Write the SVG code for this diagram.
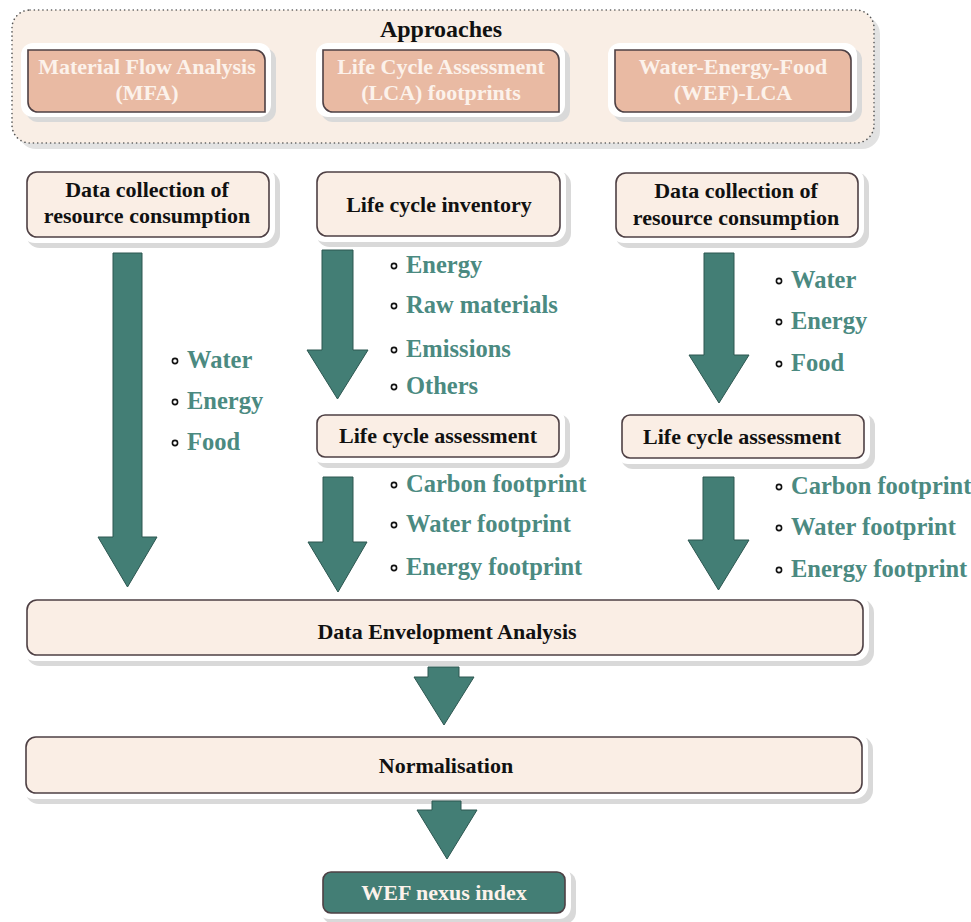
<svg xmlns="http://www.w3.org/2000/svg" width="971" height="922" viewBox="0 0 971 922">
  <style>
    .shadow { fill: #d9d9d9; }
    .halo { fill: #ffffff; }
    .box { fill: #faeee5; stroke: #4e4044; stroke-width: 1.6; }
    .app { fill: #e9baa3; stroke: #4e4044; stroke-width: 1.6; }
    .dark { fill: #437e75; stroke: #4e4044; stroke-width: 1.6; }
    .lbl { font-family: "Liberation Serif", "Times New Roman", serif; font-weight: bold; font-size: 22px; fill: #111111; text-anchor: middle; }
    .applbl { font-family: "Liberation Serif", "Times New Roman", serif; font-weight: bold; font-size: 22px; fill: #fcf2eb; text-anchor: middle; }
    .title { font-family: "Liberation Serif", "Times New Roman", serif; font-weight: bold; font-size: 24px; fill: #111111; text-anchor: middle; }
    .item { font-family: "Liberation Serif", "Times New Roman", serif; font-weight: bold; font-size: 24.5px; fill: #4b8a81; }
    .dot { fill: #ffffff; stroke: #111111; stroke-width: 1.6; }
    .arrow { fill: #437e75; stroke: #2c5650; stroke-width: 1; }
  </style>

  <!-- approaches panel -->
  <g id="approaches">
    <rect x="18" y="16" width="862" height="133" rx="18" fill="#e2e2e2"/>
    <rect x="12" y="10" width="862" height="133" rx="18" fill="#f9eee5" stroke="#555555" stroke-width="1.6" stroke-dasharray="0.1 4.2" stroke-linecap="round"/>
    <text class="title" x="441" y="37">Approaches</text>
  </g>

  <g id="mfa">
    <rect class="shadow" x="26" y="48" width="250" height="74" rx="12"/>
    <rect class="halo" x="21" y="43" width="250" height="74" rx="12"/>
    <path class="app" d="M28,50 H255 A10,10 0 0 1 265,60 V112 H38 A10,10 0 0 1 28,102 Z"/>
    <text class="applbl" x="147" y="74">Material Flow Analysis</text>
    <text class="applbl" x="147" y="100">(MFA)</text>
  </g>

  <g id="lca">
    <rect class="shadow" x="321" y="48" width="249" height="74" rx="12"/>
    <rect class="halo" x="316" y="43" width="249" height="74" rx="12"/>
    <path class="app" d="M323,50 H549 A10,10 0 0 1 559,60 V112 H333 A10,10 0 0 1 323,102 Z"/>
    <text class="applbl" x="441" y="74">Life Cycle Assessment</text>
    <text class="applbl" x="441" y="100">(LCA) footprints</text>
  </g>

  <g id="wef-lca">
    <rect class="shadow" x="613" y="48" width="249" height="74" rx="12"/>
    <rect class="halo" x="608" y="43" width="249" height="74" rx="12"/>
    <path class="app" d="M615,50 H841 A10,10 0 0 1 851,60 V112 H625 A10,10 0 0 1 615,102 Z"/>
    <text class="applbl" x="733" y="74">Water-Energy-Food</text>
    <text class="applbl" x="733" y="100">(WEF)-LCA</text>
  </g>

  <!-- second row -->
  <g id="collect-left">
    <rect class="shadow" x="26" y="171" width="254" height="77" rx="14"/>
    <rect class="halo" x="21" y="166" width="254" height="77" rx="14"/>
    <rect class="box" x="27" y="172" width="242" height="65" rx="10"/>
    <text class="lbl" x="147" y="197">Data collection of</text>
    <text class="lbl" x="147" y="223">resource consumption</text>
  </g>

  <g id="inventory">
    <rect class="shadow" x="316" y="171" width="255" height="76" rx="14"/>
    <rect class="halo" x="311" y="166" width="255" height="76" rx="14"/>
    <rect class="box" x="317" y="172" width="243" height="64" rx="10"/>
    <text class="lbl" x="439" y="212">Life cycle inventory</text>
  </g>

  <g id="collect-right">
    <rect class="shadow" x="615" y="172" width="254" height="76" rx="14"/>
    <rect class="halo" x="610" y="167" width="254" height="76" rx="14"/>
    <rect class="box" x="616" y="173" width="242" height="64" rx="10"/>
    <text class="lbl" x="736" y="198">Data collection of</text>
    <text class="lbl" x="736" y="225">resource consumption</text>
  </g>

  <!-- assessment boxes -->
  <g id="assess-mid">
    <rect class="shadow" x="316" y="414" width="254" height="54" rx="12"/>
    <rect class="halo" x="311" y="409" width="254" height="54" rx="12"/>
    <rect class="box" x="317" y="415" width="242" height="42" rx="8"/>
    <text class="lbl" x="438" y="443">Life cycle assessment</text>
  </g>

  <g id="assess-right">
    <rect class="shadow" x="621" y="414" width="254" height="55" rx="12"/>
    <rect class="halo" x="616" y="409" width="254" height="55" rx="12"/>
    <rect class="box" x="622" y="415" width="242" height="43" rx="8"/>
    <text class="lbl" x="742" y="444">Life cycle assessment</text>
  </g>

  <g id="dea">
    <rect class="shadow" x="26" y="599" width="848" height="67" rx="14"/>
    <rect class="halo" x="21" y="594" width="848" height="67" rx="14"/>
    <rect class="box" x="27" y="600" width="836" height="55" rx="10"/>
    <text class="lbl" x="447" y="639">Data Envelopment Analysis</text>
  </g>

  <g id="normalisation">
    <rect class="shadow" x="25" y="736" width="848" height="68" rx="14"/>
    <rect class="halo" x="20" y="731" width="848" height="68" rx="14"/>
    <rect class="box" x="26" y="737" width="836" height="56" rx="10"/>
    <text class="lbl" x="446" y="773">Normalisation</text>
  </g>

  <g id="wef-index">
    <rect class="shadow" x="322" y="871" width="254" height="53" rx="12"/>
    <rect class="halo" x="317" y="866" width="254" height="53" rx="12"/>
    <rect class="dark" x="323" y="872" width="242" height="41" rx="8"/>
    <text class="applbl" x="444" y="900">WEF nexus index</text>
  </g>

  <!-- item lists -->
  <g id="items-left">
    <circle class="dot" cx="175" cy="361" r="2.6"/><text class="item" x="187" y="368">Water</text>
    <circle class="dot" cx="175" cy="402" r="2.6"/><text class="item" x="187" y="409">Energy</text>
    <circle class="dot" cx="175" cy="443" r="2.6"/><text class="item" x="187" y="450">Food</text>
  </g>

  <g id="items-inventory">
    <circle class="dot" cx="394" cy="266" r="2.6"/><text class="item" x="406" y="273">Energy</text>
    <circle class="dot" cx="394" cy="306" r="2.6"/><text class="item" x="406" y="313">Raw materials</text>
    <circle class="dot" cx="394" cy="350" r="2.6"/><text class="item" x="406" y="357">Emissions</text>
    <circle class="dot" cx="394" cy="387" r="2.6"/><text class="item" x="406" y="394">Others</text>
  </g>

  <g id="items-right">
    <circle class="dot" cx="779" cy="281" r="2.6"/><text class="item" x="791" y="288">Water</text>
    <circle class="dot" cx="779" cy="322" r="2.6"/><text class="item" x="791" y="329">Energy</text>
    <circle class="dot" cx="779" cy="364" r="2.6"/><text class="item" x="791" y="371">Food</text>
  </g>

  <g id="footprints-mid">
    <circle class="dot" cx="394" cy="485" r="2.6"/><text class="item" x="406" y="492">Carbon footprint</text>
    <circle class="dot" cx="394" cy="525" r="2.6"/><text class="item" x="406" y="532">Water footprint</text>
    <circle class="dot" cx="394" cy="568" r="2.6"/><text class="item" x="406" y="575">Energy footprint</text>
  </g>

  <g id="footprints-right">
    <circle class="dot" cx="779" cy="487" r="2.6"/><text class="item" x="791" y="494">Carbon footprint</text>
    <circle class="dot" cx="779" cy="528" r="2.6"/><text class="item" x="791" y="535">Water footprint</text>
    <circle class="dot" cx="779" cy="570" r="2.6"/><text class="item" x="791" y="577">Energy footprint</text>
  </g>

  <!-- block arrows -->
  <g id="connectors">
    <polygon class="arrow" points="113,253 142,253 142,537 157,537 127.5,587 98,537 113,537"/>
    <polygon class="arrow" points="322,250 353,250 353,350 368,350 337.5,399 307,350 322,350"/>
    <polygon class="arrow" points="704,253 734,253 734,355 749,355 719,403 689,355 704,355"/>
    <polygon class="arrow" points="323,477 353,477 353,542 367,542 338,592 308,542 323,542"/>
    <polygon class="arrow" points="703,477 734,477 734,540 749,540 718.5,590 688,540 703,540"/>
    <polygon class="arrow" points="428,667 459,667 459,677 474,677 444,725 414,677 428,677"/>
    <polygon class="arrow" points="432,801 461,801 461,810 477,810 447,859 417,810 432,810"/>
  </g>
</svg>
